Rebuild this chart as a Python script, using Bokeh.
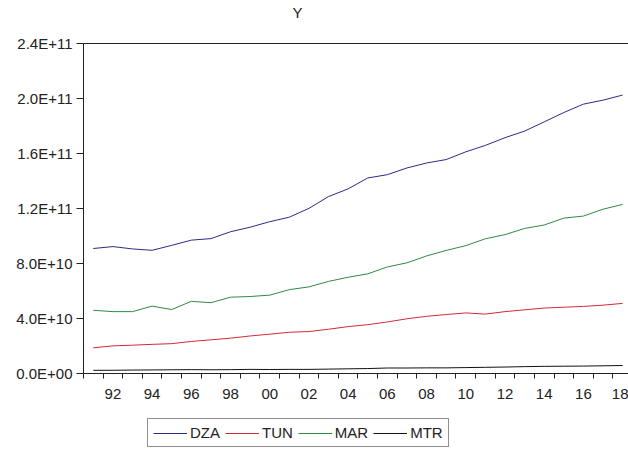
from bokeh.plotting import figure
from bokeh.models import FixedTicker, LinearAxis, Legend, LegendItem, Range1d, Title
from bokeh.layouts import column
from bokeh.embed import file_html
from bokeh.resources import INLINE

years = list(range(1991, 2019))
dza = [90.9, 92.3, 90.6, 89.6, 93.2, 97.0, 98.1, 103.1, 106.4, 110.4, 113.7, 120.1, 128.7, 134.3,
       142.2, 144.6, 149.5, 153.1, 155.6, 161.2, 165.9, 171.5, 176.3, 183.0, 189.8, 195.9, 198.8, 202.5]
tun = [18.7, 20.1, 20.6, 21.2, 21.7, 23.3, 24.5, 25.7, 27.3, 28.6, 30.0, 30.5, 32.2, 34.1,
       35.5, 37.5, 39.8, 41.6, 42.9, 44.05, 43.2, 45.0, 46.3, 47.6, 48.2, 48.8, 49.7, 51.0]
mar = [46.0, 45.0, 45.0, 49.0, 46.5, 52.5, 51.5, 55.5, 56.0, 57.0, 61.0, 63.0, 67.0, 70.0,
       72.5, 77.5, 80.5, 85.5, 89.5, 93.0, 98.0, 101.0, 105.5, 108.0, 113.0, 114.5, 119.5, 123.0]
mtr = [2.3, 2.35, 2.5, 2.6, 2.7, 2.8, 2.7, 2.8, 3.0, 2.9, 3.0, 3.0, 3.2, 3.4,
       3.6, 4.0, 4.0, 4.1, 4.1, 4.3, 4.5, 4.7, 5.0, 5.2, 5.3, 5.4, 5.6, 5.8]
scale = 1e9  # values above are in billions

y_ticks = [0.0, 4e10, 8e10, 1.2e11, 1.6e11, 2.0e11, 2.4e11]
y_tick_labels = ["0.0E+00", "4.0E+10", "8.0E+10", "1.2E+11", "1.6E+11", "2.0E+11", "2.4E+11"]
x_tick_years = list(range(1992, 2019, 2))
x_tick_labels = ["92", "94", "96", "98", "00", "02", "04", "06", "08", "10", "12", "14", "16", "18"]

series_names = ["DZA", "TUN", "MAR", "MTR"]
series_values = [dza, tun, mar, mtr]
series_colors = ["#2b2b8a", "#d02a35", "#2f8a40", "#111111"]
title_text = "Y"

FONT = "Liberation Sans"
INK = "#222222"

p = figure(width=628, height=410, output_backend="svg", toolbar_location=None,
           x_range=Range1d(1990.5, 2018.3), y_range=Range1d(0, 2.4e11),
           x_axis_location=None, y_axis_location=None,
           min_border_left=83, min_border_right=0, min_border_top=43, min_border_bottom=37)
p.title = None
p.outline_line_color = None
p.grid.visible = False
p.background_fill_color = "white"
p.border_fill_color = "white"

for name, vals, col in zip(series_names, series_values, series_colors):
    p.line(years, [v * scale for v in vals], line_color=col, line_width=1)

# left axis
yaxis = LinearAxis(ticker=FixedTicker(ticks=y_ticks, minor_ticks=[]),
                   major_label_overrides={float(t): l for t, l in zip(y_ticks, y_tick_labels)})
yaxis.major_tick_out = 7
yaxis.major_tick_in = 0
yaxis.minor_tick_out = 0
yaxis.minor_tick_in = 0
yaxis.major_label_standoff = 4
yaxis.major_label_text_font = FONT
yaxis.major_label_text_font_size = "15px"
yaxis.major_label_text_color = INK
yaxis.axis_line_color = INK
yaxis.major_tick_line_color = INK
p.add_layout(yaxis, "left")

# bottom axis
xaxis = LinearAxis(ticker=FixedTicker(ticks=[float(y) for y in x_tick_years],
                                      minor_ticks=[y - 0.5 for y in years] + [2018.5]),
                   major_label_overrides={float(t): l for t, l in zip(x_tick_years, x_tick_labels)})
xaxis.major_tick_out = 0
xaxis.major_tick_in = 0
xaxis.minor_tick_out = 5
xaxis.minor_tick_in = 0
xaxis.major_label_standoff = 10
xaxis.major_label_text_font = FONT
xaxis.major_label_text_font_size = "15px"
xaxis.major_label_text_color = INK
xaxis.axis_line_color = INK
xaxis.minor_tick_line_color = INK
p.add_layout(xaxis, "below")

# top border line
taxis = LinearAxis(ticker=FixedTicker(ticks=[], minor_ticks=[]))
taxis.major_tick_out = 0
taxis.major_tick_in = 0
taxis.minor_tick_out = 0
taxis.minor_tick_in = 0
taxis.major_label_text_font_size = "0px"
taxis.major_label_standoff = 0
taxis.axis_line_color = INK
p.add_layout(taxis, "above")

# spacer panel, then the title above it
spacer = Title(text=" ", text_font=FONT, text_font_size="15px", standoff=3)
p.add_layout(spacer, "above")
title = Title(text=title_text, align="left", offset=209, standoff=2,
              text_font=FONT, text_font_size="15px", text_font_style="normal", text_color=INK)
p.add_layout(title, "above")

# legend strip below the chart
p2 = figure(width=628, height=40, output_backend="svg", toolbar_location=None,
            x_range=Range1d(0, 1), y_range=Range1d(0, 1),
            x_axis_location=None, y_axis_location=None,
            min_border_left=0, min_border_right=0, min_border_top=0, min_border_bottom=0)
p2.outline_line_color = None
p2.grid.visible = False
p2.background_fill_color = "white"
p2.border_fill_color = "white"
items = []
for name, col in zip(series_names, series_colors):
    r = p2.line([0.0], [0.0], line_color=col, line_width=1)  # legend proxy (single point, invisible)
    items.append(LegendItem(label=name, renderers=[r]))

legend = Legend(items=items, orientation="horizontal", location=(64, 3))
legend.border_line_color = INK
legend.border_line_width = 1
legend.background_fill_color = "white"
legend.background_fill_alpha = 1.0
legend.label_text_font = FONT
legend.label_text_font_size = "15px"
legend.label_text_color = INK
legend.glyph_width = 34
legend.glyph_height = 16
legend.label_height = 16
legend.label_standoff = 3
legend.spacing = 5
legend.padding = 5
legend.margin = 0
p2.add_layout(legend, "center")

layout = column(p, p2, spacing=0)
open("out.html", "w").write(file_html(layout, INLINE))
